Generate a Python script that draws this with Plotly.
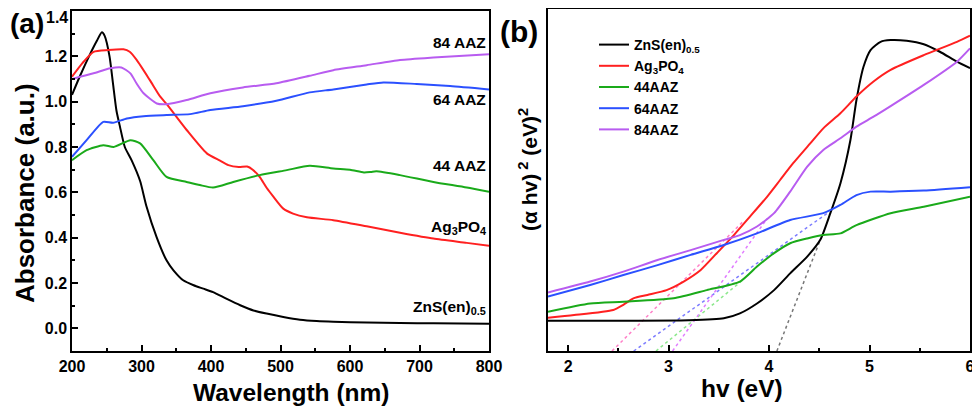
import plotly.graph_objects as go

# ---- panel (a): absorbance spectra ----
zns_wl = [200, 211, 226, 236, 243, 247, 254, 259, 264, 269, 276, 286, 298, 307, 322, 336, 346, 360, 375, 389, 403, 422, 442, 461, 480, 504, 528, 552, 576, 624, 672, 720, 800]
zns_abs = [1.03, 1.11, 1.21, 1.27, 1.306, 1.29, 1.20, 1.08, 0.96, 0.89, 0.80, 0.74, 0.65, 0.54, 0.40, 0.30, 0.256, 0.212, 0.19, 0.175, 0.16, 0.131, 0.102, 0.079, 0.065, 0.05, 0.038, 0.032, 0.029, 0.026, 0.024, 0.022, 0.02]

ag_wl = [200, 215, 231, 252, 274, 283, 293, 312, 327, 336, 365, 394, 413, 425, 440, 452, 460, 470, 480, 490, 504, 518, 538, 576, 624, 672, 720, 768, 800]
ag_abs = [1.11, 1.17, 1.22, 1.228, 1.231, 1.22, 1.184, 1.095, 1.022, 0.99, 0.875, 0.772, 0.74, 0.72, 0.712, 0.714, 0.70, 0.668, 0.62, 0.58, 0.528, 0.506, 0.49, 0.477, 0.45, 0.422, 0.396, 0.377, 0.364]

aaz84_wl = [200, 231, 255, 271, 284, 293, 303, 322, 336, 365, 399, 446, 494, 542, 576, 624, 672, 720, 800]
aaz84_abs = [1.10, 1.125, 1.147, 1.151, 1.125, 1.08, 1.037, 0.992, 0.989, 1.007, 1.037, 1.063, 1.081, 1.114, 1.139, 1.161, 1.184, 1.195, 1.209]

aaz64_wl = [200, 221, 245, 259, 279, 303, 336, 370, 399, 446, 494, 542, 576, 624, 648, 696, 744, 800]
aaz64_abs = [0.757, 0.83, 0.911, 0.907, 0.926, 0.936, 0.941, 0.945, 0.963, 0.98, 1.004, 1.041, 1.054, 1.076, 1.085, 1.078, 1.069, 1.054]

aaz44_wl = [200, 221, 245, 260, 284, 298, 317, 336, 365, 384, 403, 432, 470, 509, 542, 576, 600, 620, 630, 638, 672, 720, 768, 800]
aaz44_abs = [0.742, 0.786, 0.808, 0.80, 0.830, 0.816, 0.742, 0.668, 0.646, 0.632, 0.621, 0.646, 0.676, 0.698, 0.717, 0.705, 0.70, 0.688, 0.69, 0.693, 0.676, 0.646, 0.621, 0.602]

a_yticks = [0.0, 0.2, 0.4, 0.6, 0.8, 1.0, 1.2, 1.4]
a_yticktext = ['0.0', '0.2', '0.4', '0.6', '0.8', '1.0', '1.2', '1.4']

# ---- panel (b): Tauc plot (arbitrary units) ----
zns_e = [1.8, 2.5, 3.2, 3.55, 3.71, 3.88, 4.05, 4.21, 4.38, 4.51, 4.61, 4.71, 4.81, 4.87, 4.94, 5.01, 5.11, 5.21, 5.37, 5.54, 5.70, 5.87, 6.0]
zns_t = [0.887, 0.887, 0.90, 0.955, 1.10, 1.39, 1.78, 2.27, 2.76, 3.25, 4.03, 4.90, 6.17, 7.34, 8.31, 8.80, 9.04, 9.09, 9.07, 8.97, 8.75, 8.46, 8.27]

ag_e = [1.8, 2.06, 2.45, 2.55, 2.65, 2.79, 2.98, 3.15, 3.32, 3.48, 3.65, 3.81, 3.98, 4.11, 4.24, 4.41, 4.54, 4.71, 4.87, 5.04, 5.21, 5.54, 5.87, 6.0]
ag_t = [0.975, 1.05, 1.20, 1.35, 1.54, 1.64, 1.78, 2.03, 2.37, 2.86, 3.39, 3.93, 4.51, 5.0, 5.49, 6.07, 6.51, 6.95, 7.44, 7.88, 8.22, 8.65, 9.04, 9.22]

aaz44_e = [1.8, 2.22, 2.55, 3.05, 3.38, 3.71, 3.88, 4.05, 4.21, 4.38, 4.54, 4.71, 4.87, 5.21, 5.54, 6.0]
aaz44_t = [1.15, 1.39, 1.44, 1.54, 1.78, 2.03, 2.47, 2.86, 3.15, 3.29, 3.39, 3.44, 3.68, 4.03, 4.22, 4.51]

aaz64_e = [1.8, 2.22, 2.55, 2.89, 3.22, 3.55, 3.88, 4.21, 4.54, 4.71, 4.87, 5.01, 5.21, 5.54, 6.0]
aaz64_t = [1.59, 1.93, 2.22, 2.51, 2.81, 3.10, 3.44, 3.83, 4.03, 4.27, 4.56, 4.66, 4.66, 4.69, 4.79]

aaz84_e = [1.8, 2.22, 2.55, 2.89, 3.22, 3.55, 3.71, 3.88, 4.05, 4.21, 4.38, 4.54, 4.71, 4.87, 5.04, 5.21, 5.54, 5.87, 6.0]
aaz84_t = [1.71, 2.03, 2.32, 2.66, 2.95, 3.25, 3.39, 3.64, 4.03, 4.66, 5.39, 5.88, 6.22, 6.56, 6.85, 7.16, 7.78, 8.46, 8.85]

# tangent (band gap) lines: x-intercept and end point on the curve
tan_x0 = [4.078, 2.437, 2.875, 2.653, 3.04]
tan_x1 = [4.51, 3.75, 3.75, 4.58, 3.98]
tan_y1 = [3.25, 3.81, 2.10, 4.03, 3.87]
tan_colors = ['#777777', '#ff80c8', '#8ce88c', '#7c7cff', '#e07cff']

names = ['ZnS(en)<sub>0.5</sub>', 'Ag<sub>3</sub>PO<sub>4</sub>', '44AAZ', '64AAZ', '84AAZ']
colors = ['#000000', '#ff2020', '#1aaa1a', '#2b50ff', '#b85cf0']

FONT = 'Liberation Sans, Arial, sans-serif'
W, H = 980, 411
OFF = 8  # the page body margin moves the figure 8px right and down on screen


def px_x(p):
    return (p - OFF) / W


def px_y(p):
    return 1 - (p - OFF) / H


fig = go.Figure()

a_data = [(zns_wl, zns_abs), (ag_wl, ag_abs), (aaz44_wl, aaz44_abs), (aaz64_wl, aaz64_abs), (aaz84_wl, aaz84_abs)]
for (x, y), c in zip(a_data, colors):
    fig.add_trace(go.Scatter(x=x, y=y, mode='lines', line=dict(color=c, width=2, shape='spline', smoothing=0.6),
                             showlegend=False, xaxis='x', yaxis='y'))

# dotted tangents drawn first so curves sit on top
for x0, x1, y1, c in zip(tan_x0, tan_x1, tan_y1, tan_colors):
    fig.add_trace(go.Scatter(x=[x0, x1], y=[0, y1], mode='lines', line=dict(color=c, width=1.5, dash='dot'),
                             showlegend=False, xaxis='x2', yaxis='y2'))

b_data = [(zns_e, zns_t), (ag_e, ag_t), (aaz44_e, aaz44_t), (aaz64_e, aaz64_t), (aaz84_e, aaz84_t)]
for (x, y), c, n in zip(b_data, colors, names):
    fig.add_trace(go.Scatter(x=x, y=y, mode='lines', name=n, line=dict(color=c, width=2, shape='spline', smoothing=0.6),
                             xaxis='x2', yaxis='y2'))

tickfont = dict(family=FONT, size=16, color='black', weight='bold')
axis_common = dict(showline=True, linecolor='black', linewidth=1.5, mirror=True, showgrid=False, zeroline=False,
                   ticks='inside', ticklen=6, tickwidth=1.5, tickcolor='black', tickfont=tickfont,
                   ticklabeloverflow='allow', automargin=False)

# top label (1.4) would be clipped at the page top, so it is written as an annotation below
shown_text = a_yticktext[:-1] + ['']

fig.update_layout(
    width=W, height=H,
    margin=dict(l=0, r=0, t=0, b=0, pad=0, autoexpand=False),
    paper_bgcolor='white', plot_bgcolor='white',
    xaxis=dict(domain=[px_x(72), px_x(489)], range=[200, 800], dtick=100, anchor='y',
               minor=dict(ticks='inside', ticklen=3, dtick=50, tickcolor='black'), **axis_common),
    yaxis=dict(domain=[px_y(351), px_y(11)], range=[-0.1, 1.4], tickvals=a_yticks, ticktext=shown_text, anchor='x',
               minor=dict(ticks='inside', ticklen=3, dtick=0.1, tickcolor='black'), **axis_common),
    xaxis2=dict(domain=[px_x(548), px_x(970)], range=[1.8, 6.0], dtick=1, anchor='y2',
                minor=dict(ticks='inside', ticklen=3, dtick=0.5, tickcolor='black'), **axis_common),
    yaxis2=dict(domain=[px_y(351), px_y(9)], range=[0, 10], anchor='x2', showline=True, linecolor='black',
                linewidth=1.5, mirror=True, showgrid=False, zeroline=False, showticklabels=False, ticks='',
                automargin=False),
    legend=dict(x=px_x(594), y=px_y(29), xanchor='left', yanchor='top', bgcolor='rgba(0,0,0,0)',
                font=dict(family=FONT, size=14, color='black', weight='bold'), tracegroupgap=0, itemwidth=30),
)

fig.add_annotation(x=px_x(69), y=1, xref='paper', yref='paper', text=a_yticktext[-1], showarrow=False,
                   xanchor='right', yanchor='top', borderpad=0, font=tickfont)

ann_font = dict(family=FONT, size=15.5, color='black', weight='bold')
labels_a = ['84 AAZ', '64 AAZ', '44 AAZ', 'Ag<sub>3</sub>PO<sub>4</sub>', 'ZnS(en)<sub>0.5</sub>']
labels_a_y = [1.259, 1.01, 0.717, 0.447, 0.094]
for t, y in zip(labels_a, labels_a_y):
    fig.add_annotation(x=798, y=y, xref='x', yref='y', text=t, showarrow=False, xanchor='right', yanchor='middle', font=ann_font)

title_font = dict(family=FONT, size=24.5, color='black', weight='bold')
fig.add_annotation(x=px_x(291), y=px_y(392), xref='paper', yref='paper', text='Wavelength (nm)', showarrow=False,
                   xanchor='center', yanchor='middle', font=title_font)
fig.add_annotation(x=px_x(25), y=px_y(193), xref='paper', yref='paper', text='Absorbance (a.u.)', showarrow=False,
                   textangle=-90, xanchor='center', yanchor='middle', font=dict(family=FONT, size=26, color='black', weight='bold'))
fig.add_annotation(x=px_x(742), y=px_y(388), xref='paper', yref='paper', text='hv (eV)', showarrow=False,
                   xanchor='center', yanchor='middle', font=title_font)
fig.add_annotation(x=px_x(528), y=px_y(170), xref='paper', yref='paper', text='(α hv)<sup> 2</sup> (eV)<sup>2</sup>',
                   showarrow=False, textangle=-90, xanchor='center', yanchor='middle',
                   font=dict(family=FONT, size=21, color='black', weight='bold'))
fig.add_annotation(x=px_x(8), y=px_y(24), xref='paper', yref='paper', text='(a)', showarrow=False,
                   xanchor='left', yanchor='middle', font=dict(family=FONT, size=28, color='black', weight='bold'))
fig.add_annotation(x=px_x(519), y=px_y(31), xref='paper', yref='paper', text='(b)', showarrow=False,
                   xanchor='center', yanchor='middle', font=dict(family=FONT, size=30, color='black', weight='bold'))

fig.write_html("out.html")
